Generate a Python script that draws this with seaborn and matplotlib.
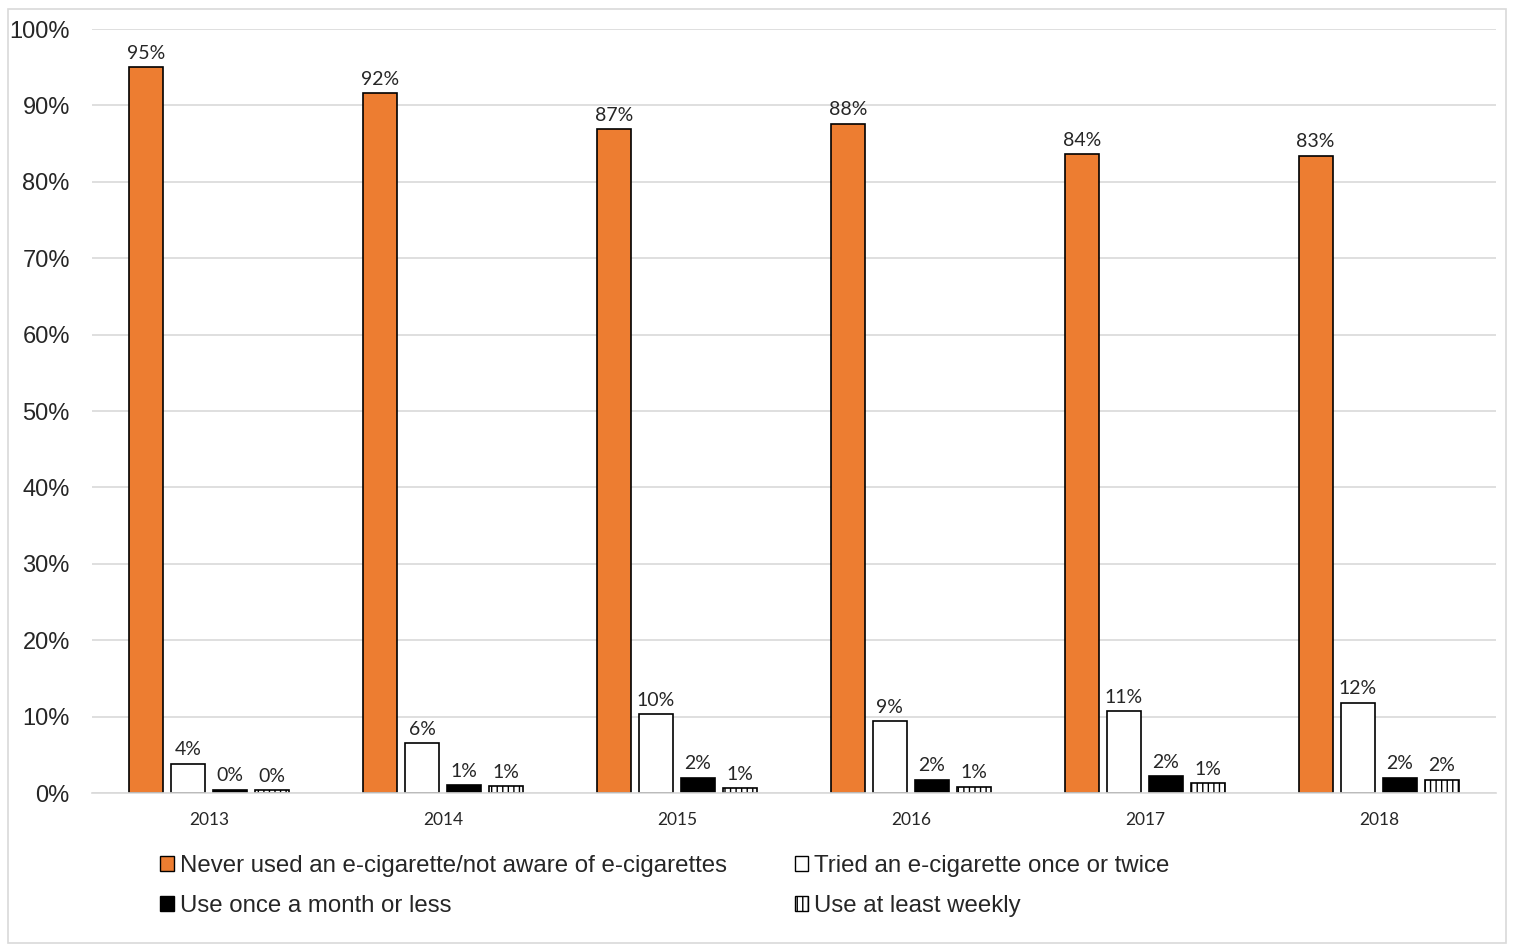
import numpy as np
import pandas as pd
import matplotlib
matplotlib.use("Agg")
import matplotlib.pyplot as plt
import seaborn as sns
from matplotlib.patches import Patch, Rectangle

# ── data ─────────────────────────────────────────────────────────────────────
years = ["2013", "2014", "2015", "2016", "2017", "2018"]
never_used = [95.0, 91.6, 86.9, 87.6, 83.6, 83.4]
tried_once = [3.8, 6.5, 10.3, 9.4, 10.7, 11.8]
monthly_or_less = [0.45, 1.0, 2.0, 1.7, 2.2, 2.0]
weekly = [0.35, 0.9, 0.65, 0.8, 1.3, 1.7]

series = [
    "Never used an e-cigarette/not aware of e-cigarettes",
    "Tried an e-cigarette once or twice",
    "Use once a month or less",
    "Use at least weekly",
]
colors = ["#ed7d31", "#ffffff", "#000000", "#ffffff"]

df = pd.DataFrame({
    "year": years * 4,
    "series": np.repeat(series, len(years)),
    "value": never_used + tried_once + monthly_or_less + weekly,
})

sns.set_style("white")
plt.rcParams["font.family"] = ["Liberation Sans", "DejaVu Sans"]

fig = plt.figure(figsize=(15.14, 9.46), dpi=100)
ax = fig.add_axes([0.0608, 0.1617, 0.9272, 0.8076])

sns.barplot(data=df, x="year", y="value", hue="series", hue_order=series,
            palette=colors, saturation=1, width=0.72, gap=0.2,
            edgecolor="black", linewidth=1.2, legend=False, ax=ax)

# hatch the weekly bars with vertical stripes
for bar in ax.containers[3]:
    bar.set_hatch("|||")

for cont in ax.containers:
    labels = [f"{b.get_height():.0f}%" for b in cont]
    ax.bar_label(cont, labels=labels, padding=4, fontsize=14,
                 family=["Lato", "DejaVu Sans"])

ax.set_ylim(0, 100)
ax.set_xlim(-0.5, 5.5)
ax.set_yticks(range(0, 101, 10))
ax.set_yticklabels([f"{t}%" for t in range(0, 101, 10)], fontsize=17)
ax.tick_params(axis="x", labelsize=12.5, length=0, pad=14)
ax.tick_params(axis="y", length=0, pad=16)
for lab in ax.get_xticklabels():
    lab.set_family(["Lato", "DejaVu Sans"])
ax.set_xlabel("")
ax.set_ylabel("")
ax.grid(axis="y", color="#d9d9d9", linewidth=1.2)
ax.set_axisbelow(True)
for s in ["top", "right", "left"]:
    ax.spines[s].set_visible(False)
ax.spines["bottom"].set_color("#d9d9d9")
ax.spines["bottom"].set_linewidth(1.2)

# legend: column-first order
handles = [Patch(facecolor=c, edgecolor="black", hatch=("|||" if i == 3 else None))
           for i, c in enumerate(colors)]
order = [0, 2, 1, 3]
fig.legend([handles[i] for i in order], [series[i] for i in order],
           loc="upper left", bbox_to_anchor=(0.106, 0.096), ncol=2,
           frameon=False, fontsize=17.3, handlelength=0.55, handleheight=0.55,
           handletextpad=0.25, columnspacing=2.85, labelspacing=0.75,
           borderaxespad=0, borderpad=0)

# light frame around the whole chart
fig.patches.append(Rectangle((0.005, 0.003), 0.99, 0.988, transform=fig.transFigure,
                             fill=False, edgecolor="#d9d9d9", linewidth=1.2))

fig.savefig("out.png", dpi=100)
